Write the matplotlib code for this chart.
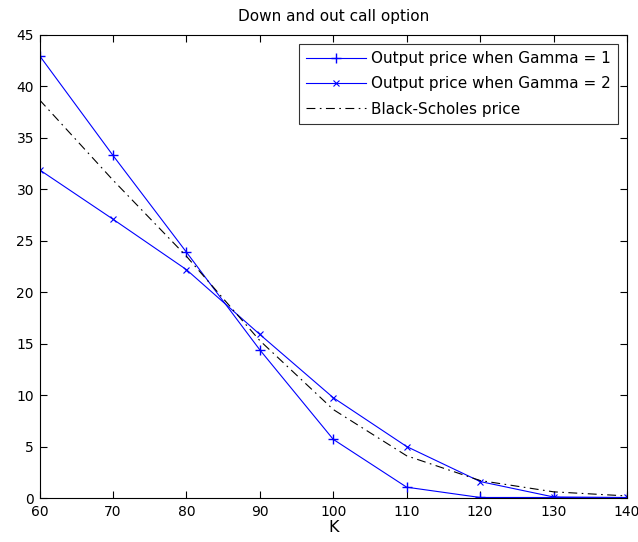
import matplotlib
matplotlib.use("Agg")
import matplotlib.pyplot as plt

strikes = [60, 70, 80, 90, 100, 110, 120, 130, 140]
price_gamma1 = [43.0, 33.3, 23.9, 14.4, 5.7, 1.05, 0.05, 0.05, 0.0]
price_gamma2 = [31.9, 27.1, 22.2, 15.9, 9.75, 5.0, 1.6, 0.1, 0.05]
bs_price = [38.7, 30.9, 23.5, 15.3, 8.6, 4.1, 1.7, 0.6, 0.2]

x_ticks = [60, 70, 80, 90, 100, 110, 120, 130, 140]
y_ticks = [0, 5, 10, 15, 20, 25, 30, 35, 40, 45]

plt.rcParams['font.family'] = ['DejaVu Sans']

fig = plt.figure(figsize=(6.38, 5.42), dpi=100)
ax = fig.add_axes([39.5 / 638, 1 - 498 / 542, (627 - 39.5) / 638, (498 - 35) / 542])

ax.plot(strikes, price_gamma1, color='blue', lw=0.8, marker='+', ms=7.5, mew=1.0,
        label='Output price when Gamma = 1')
ax.plot(strikes, price_gamma2, color='blue', lw=0.8, marker='x', ms=5, mew=0.8,
        label='Output price when Gamma = 2')
ax.plot(strikes, bs_price, color='black', lw=0.8, ls=(0, (8, 4, 1.5, 4)),
        label='Black-Scholes price')

ax.set_xlim(60, 140)
ax.set_ylim(0, 45)
ax.set_xticks(x_ticks)
ax.set_yticks(y_ticks)
ax.tick_params(direction='in', length=5, width=0.8, top=True, right=True,
               labelsize=10, colors='black')
ax.tick_params(axis='x', pad=5)
ax.tick_params(axis='y', pad=4)
for s in ax.spines.values():
    s.set_linewidth(0.8)

ax.set_title('Down and out call option', fontsize=11, pad=10)
ax.set_xlabel('K', fontsize=11.5, labelpad=1)

leg = ax.legend(loc='upper right', fontsize=11, frameon=True, fancybox=False,
                edgecolor='black', borderpad=0.45, labelspacing=0.68,
                handlelength=3.9, handletextpad=0.35, borderaxespad=0.6)
leg.get_frame().set_linewidth(0.8)

fig.savefig('out.png', dpi=100)
